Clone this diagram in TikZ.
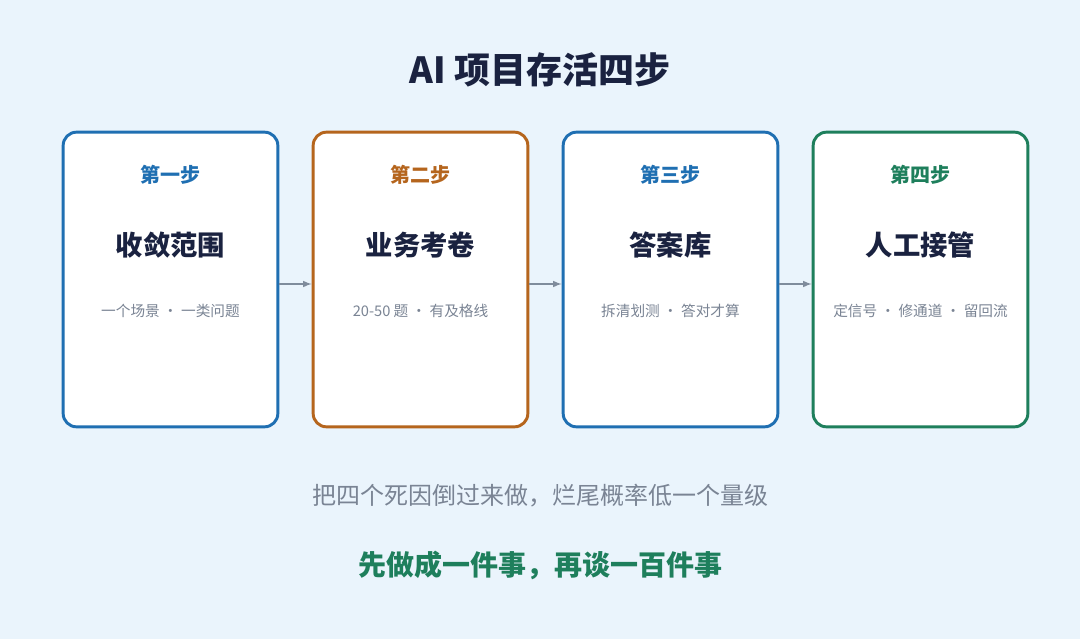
\documentclass[tikz,border=0pt]{standalone}
\usepackage{fontspec}
\setmainfont{Noto Sans CJK SC}
\usepackage{tikz}
\usetikzlibrary{positioning}
\definecolor{bgblue}{HTML}{EAF4FC}
\definecolor{stepblue}{HTML}{1F6FB2}
\definecolor{steporange}{HTML}{B5651D}
\definecolor{stepgreen}{HTML}{1E7F5C}
\definecolor{darktext}{HTML}{1A2240}
\definecolor{graytext}{HTML}{7A8494}
\definecolor{arrowgray}{HTML}{7F8C9C}

\begin{document}
\begin{tikzpicture}[x=0.75pt, y=-0.75pt,
  card/.style={draw=#1, line width=2.2pt, fill=white, rounded corners=10pt,
    minimum width=161pt, minimum height=221pt},
  steplabel/.style={text=#1, font=\bfseries\fontsize{15}{17}\selectfont},
  cardtitle/.style={text=darktext, font=\bfseries\fontsize{20.5}{24}\selectfont},
  cardnote/.style={text=graytext, font=\fontsize{11}{13}\selectfont},
  link/.style={draw=arrowgray, line width=1.2pt, -latex}]
\fill[bgblue] (0,0) rectangle (1080,639);
\useasboundingbox (0,0) rectangle (1080,639);

\node[font=\bfseries\fontsize{27}{32}\selectfont, text=darktext] (title) at (540,70) {AI 项目存活四步};

\node[card=stepblue]    (S1) at (170.5,279.5) {};
\node[card=steporange]  (S2) at (420.5,279.5) {};
\node[card=stepblue]    (S3) at (670.5,279.5) {};
\node[card=stepgreen]   (S4) at (920.5,279.5) {};

\node[steplabel=stepblue]   (L1) at (170.5,175) {第一步};
\node[steplabel=steporange] (L2) at (420.5,175) {第二步};
\node[steplabel=stepblue]   (L3) at (670.5,175) {第三步};
\node[steplabel=stepgreen]  (L4) at (920.5,175) {第四步};

\node[cardtitle] (T1) at (170.5,245) {收敛范围};
\node[cardtitle] (T2) at (420.5,245) {业务考卷};
\node[cardtitle] (T3) at (670.5,245) {答案库};
\node[cardtitle] (T4) at (920.5,245) {人工接管};

\node[cardnote] (N1) at (170.5,311) {一个场景 · 一类问题};
\node[cardnote] (N2) at (420.5,311) {20-50 题 · 有及格线};
\node[cardnote] (N3) at (670.5,311) {拆清划测 · 答对才算};
\node[cardnote] (N4) at (920.5,311) {定信号 · 修通道 · 留回流};

% connectors between cards
\draw[link] (S1.east |- 0,284) -- (S2.west |- 0,284);
\draw[link] (S2.east |- 0,284) -- (S3.west |- 0,284);
\draw[link] (S3.east |- 0,284) -- (S4.west |- 0,284);

\node[text=graytext, font=\fontsize{18}{21}\selectfont] (sum) at (540,496) {把四个死因倒过来做，烂尾概率低一个量级};
\node[text=stepgreen, font=\bfseries\fontsize{21}{25}\selectfont] (motto) at (540,565) {先做成一件事，再谈一百件事};
\end{tikzpicture}
\end{document}
